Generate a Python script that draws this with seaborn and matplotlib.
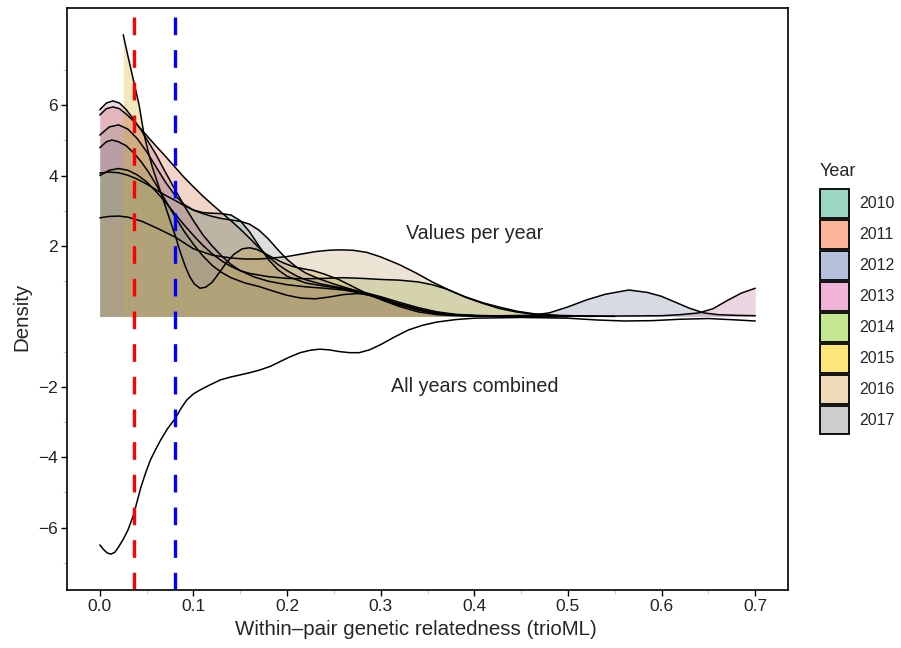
import numpy as np
import pandas as pd
import matplotlib
matplotlib.use("Agg")
import matplotlib.pyplot as plt
import seaborn as sns
from matplotlib.patches import Patch
from matplotlib.ticker import FixedLocator

# Densities, one curve per year (x = relatedness, y = density)
years = ["2010", "2011", "2012", "2013", "2014", "2015", "2016", "2017"]
colors = ["#66c2a5", "#fc8d62", "#8da0cb", "#e78ac3", "#a6d854", "#ffd92f", "#e5c494", "#b3b3b3"]

x_2010 = [0, 0.01, 0.02, 0.03, 0.04, 0.05, 0.06, 0.07, 0.08, 0.09, 0.1, 0.11, 0.12, 0.13, 0.14, 0.15,
          0.16, 0.17, 0.18, 0.19, 0.2, 0.22, 0.24, 0.26, 0.28, 0.3, 0.32, 0.34, 0.36, 0.38, 0.4, 0.43, 0.46, 0.5]
d_2010 = [5.15, 5.38, 5.44, 5.32, 5.05, 4.68, 4.25, 3.82, 3.45, 3.18, 3.02, 2.95, 2.93, 2.92, 2.88, 2.72,
          2.4, 2.0, 1.62, 1.33, 1.14, 0.95, 0.86, 0.78, 0.66, 0.5, 0.33, 0.19, 0.09, 0.04, 0.02, 0.01, 0, 0]

x_2011 = [0, 0.007, 0.014, 0.021, 0.028, 0.036, 0.044, 0.052, 0.06, 0.07, 0.08, 0.09, 0.1, 0.11, 0.12,
          0.13, 0.14, 0.15, 0.16, 0.17, 0.18, 0.19, 0.2, 0.21, 0.22, 0.235, 0.25, 0.265, 0.28, 0.3, 0.32,
          0.34, 0.36, 0.38, 0.4, 0.43, 0.46, 0.5]
d_2011 = [5.72, 5.9, 5.95, 5.9, 5.75, 5.55, 5.32, 5.08, 4.84, 4.55, 4.25, 3.95, 3.68, 3.42, 3.18,
          2.95, 2.72, 2.48, 2.22, 1.95, 1.7, 1.48, 1.3, 1.15, 1.04, 0.93, 0.85, 0.78, 0.7, 0.56, 0.4,
          0.25, 0.13, 0.06, 0.03, 0.01, 0, 0]

x_2012 = [0, 0.007, 0.013, 0.02, 0.028, 0.036, 0.044, 0.052, 0.06, 0.07, 0.08, 0.09, 0.1, 0.11, 0.12,
          0.13, 0.14, 0.155, 0.17, 0.185, 0.2, 0.215, 0.23, 0.245, 0.26, 0.275, 0.29, 0.305, 0.32, 0.34,
          0.36, 0.38, 0.4, 0.43, 0.46, 0.48, 0.5, 0.52, 0.54, 0.565, 0.585, 0.6, 0.615, 0.63, 0.645,
          0.66, 0.68, 0.7]
d_2012 = [4.79, 4.96, 5.01, 4.96, 4.85, 4.65, 4.4, 4.1, 3.75, 3.3, 2.85, 2.42, 2.05, 1.72, 1.45,
          1.25, 1.1, 0.95, 0.85, 0.72, 0.6, 0.52, 0.5, 0.55, 0.62, 0.65, 0.6, 0.48, 0.34, 0.18,
          0.08, 0.04, 0.02, 0.02, 0.03, 0.1, 0.27, 0.47, 0.63, 0.75, 0.68, 0.57, 0.4, 0.23, 0.1,
          0.05, 0.03, 0.02]

x_2013 = [0, 0.007, 0.014, 0.021, 0.028, 0.036, 0.044, 0.052, 0.06, 0.07, 0.08, 0.09, 0.1, 0.11, 0.12,
          0.13, 0.14, 0.15, 0.165, 0.18, 0.2, 0.22, 0.24, 0.26, 0.28, 0.3, 0.32, 0.34, 0.36, 0.38, 0.4,
          0.45, 0.5, 0.55, 0.6, 0.62, 0.64, 0.655, 0.67, 0.685, 0.7]
d_2013 = [5.87, 6.06, 6.12, 6.06, 5.88, 5.6, 5.3, 4.95, 4.6, 4.1, 3.62, 3.15, 2.72, 2.32, 2.0,
          1.72, 1.48, 1.3, 1.12, 1.0, 0.9, 0.84, 0.8, 0.75, 0.66, 0.52, 0.36, 0.21, 0.1, 0.04, 0.02,
          0.01, 0.01, 0.01, 0.02, 0.05, 0.1, 0.22, 0.45, 0.66, 0.8]

x_2014 = [0, 0.01, 0.02, 0.03, 0.04, 0.05, 0.06, 0.07, 0.08, 0.09, 0.1, 0.11, 0.12, 0.13, 0.14, 0.15,
          0.16, 0.18, 0.2, 0.22, 0.24, 0.26, 0.28, 0.3, 0.32, 0.34, 0.355, 0.37, 0.39, 0.41, 0.426,
          0.445, 0.465, 0.49, 0.52, 0.55]
d_2014 = [4.0, 4.15, 4.2, 4.15, 4.02, 3.82, 3.55, 3.25, 2.92, 2.6, 2.3, 2.02, 1.78, 1.58, 1.42, 1.3,
          1.22, 1.13, 1.08, 1.07, 1.08, 1.1, 1.08, 1.05, 1.03, 0.98, 0.9, 0.78, 0.56, 0.38, 0.27,
          0.15, 0.07, 0.03, 0.01, 0]

x_2015 = [0.025, 0.03, 0.036, 0.042, 0.047, 0.052, 0.056, 0.061, 0.066, 0.071, 0.076, 0.081, 0.086,
          0.091, 0.096, 0.101, 0.107, 0.113, 0.12, 0.127, 0.135, 0.143, 0.152, 0.16, 0.168, 0.177,
          0.186, 0.196, 0.206, 0.216, 0.228, 0.24, 0.255, 0.27, 0.285, 0.3, 0.32, 0.34, 0.36, 0.38,
          0.4, 0.43, 0.46]
d_2015 = [8.0, 7.4, 6.7, 6.0, 5.2, 4.65, 4.25, 3.85, 3.45, 3.05, 2.65, 2.26, 1.82,
          1.44, 1.13, 0.92, 0.8, 0.83, 0.97, 1.22, 1.52, 1.76, 1.92, 1.95, 1.9, 1.78,
          1.65, 1.52, 1.42, 1.36, 1.3, 1.2, 1.05, 0.85, 0.65, 0.48, 0.28, 0.13, 0.05, 0.02,
          0.01, 0, 0]

x_2016 = [0, 0.01, 0.02, 0.03, 0.045, 0.06, 0.08, 0.1, 0.12, 0.14, 0.155, 0.17, 0.185, 0.2, 0.215,
          0.23, 0.245, 0.256, 0.27, 0.285, 0.3, 0.32, 0.338, 0.355, 0.373, 0.39, 0.408, 0.426, 0.444,
          0.46, 0.48, 0.5, 0.53]
d_2016 = [2.8, 2.84, 2.85, 2.82, 2.7, 2.52, 2.26, 1.92, 1.74, 1.66, 1.63, 1.63, 1.66, 1.7, 1.77,
          1.84, 1.88, 1.89, 1.88, 1.82, 1.69, 1.47, 1.23, 0.98, 0.75, 0.55, 0.38, 0.23, 0.13,
          0.07, 0.03, 0.01, 0]

x_2017 = [0, 0.01, 0.02, 0.03, 0.04, 0.05, 0.06, 0.07, 0.08, 0.09, 0.1, 0.11, 0.12, 0.13, 0.14, 0.15,
          0.16, 0.17, 0.18, 0.19, 0.2, 0.21, 0.22, 0.235, 0.25, 0.265, 0.28, 0.3, 0.32, 0.34, 0.36,
          0.38, 0.41, 0.45, 0.5]
d_2017 = [4.07, 4.1, 4.08, 4.01, 3.9, 3.76, 3.6, 3.44, 3.3, 3.15, 3.02, 2.92, 2.84, 2.78, 2.74, 2.7,
          2.62, 2.45, 2.2, 1.9, 1.62, 1.4, 1.23, 1.06, 0.92, 0.8, 0.68, 0.5, 0.33, 0.19, 0.09,
          0.04, 0.01, 0, 0]

# All years combined, drawn downwards
x_all = [0, 0.004, 0.008, 0.012, 0.016, 0.02, 0.025, 0.03, 0.036, 0.04, 0.044, 0.049, 0.054, 0.06,
         0.065, 0.072, 0.081, 0.087, 0.093, 0.1, 0.107, 0.118, 0.129, 0.14, 0.15, 0.16, 0.171, 0.182,
         0.192, 0.203, 0.214, 0.225, 0.235, 0.245, 0.256, 0.267, 0.277, 0.288, 0.3, 0.315, 0.33, 0.345,
         0.36, 0.38, 0.4, 0.45, 0.5, 0.53, 0.56, 0.59, 0.62, 0.65, 0.68, 0.7]
d_all = [-6.49, -6.62, -6.72, -6.75, -6.7, -6.55, -6.33, -6.07, -5.64, -5.24, -4.84, -4.44, -4.08, -3.76,
         -3.51, -3.2, -2.88, -2.6, -2.37, -2.2, -2.09, -1.94, -1.8, -1.72, -1.66, -1.6, -1.52, -1.42,
         -1.29, -1.15, -1.03, -0.96, -0.93, -0.95, -1.0, -1.03, -1.03, -0.95, -0.8, -0.58, -0.38, -0.25,
         -0.16, -0.09, -0.05, -0.03, -0.05, -0.1, -0.13, -0.12, -0.08, -0.06, -0.1, -0.13]

# thresholds
red_cut = 0.036
blue_cut = 0.08

xs = [x_2010, x_2011, x_2012, x_2013, x_2014, x_2015, x_2016, x_2017]
ds = [d_2010, d_2011, d_2012, d_2013, d_2014, d_2015, d_2016, d_2017]

rows = []
for yr, xx, dd in zip(years, xs, ds):
    for a, b in zip(xx, dd):
        rows.append({"year": yr, "x": a, "density": b})
df = pd.DataFrame(rows)

sns.set_theme(style="white")
plt.rcParams['font.family'] = ['Liberation Sans', 'DejaVu Sans']

fig = plt.figure(figsize=(9.01, 6.48), dpi=100)
ax = fig.add_axes([0.0744, 0.0895, 0.8002, 0.8982])

# filled densities (a bit darker so the overlaps turn brown like the original)
dark = np.array([0.24, 0.16, 0.05])
for yr, col in zip(years, colors):
    sub = df[df["year"] == yr]
    fc = 0.8 * np.array(matplotlib.colors.to_rgb(col)) + 0.2 * dark
    ax.fill_between(sub["x"], 0, sub["density"], color=fc, alpha=0.31, lw=0)
sns.lineplot(data=df, x="x", y="density", units="year", estimator=None, sort=False,
             color="black", lw=1.1, ax=ax, legend=False)

# combined curve
sns.lineplot(x=x_all, y=d_all, color="black", lw=1.1, ax=ax, sort=False, estimator=None)

ax.axvline(red_cut, color="red", lw=2.4, ls=(0, (5.3, 4.5)))
ax.axvline(blue_cut, color="blue", lw=2.4, ls=(0, (5.3, 4.5)))

ax.text(0.4, 2.35, "Values per year", ha="center", va="center", fontsize=14.2)
ax.text(0.4, -2.0, "All years combined", ha="center", va="center", fontsize=14.2)

ax.set_xlim(-0.035, 0.735)
ax.set_ylim(-7.77, 8.76)
ax.set_xticks([0, 0.1, 0.2, 0.3, 0.4, 0.5, 0.6, 0.7])
ax.set_xticklabels(["0.0", "0.1", "0.2", "0.3", "0.4", "0.5", "0.6", "0.7"])
ax.set_yticks([-6, -4, -2, 2, 4, 6])
ax.set_yticklabels(["\u22126", "\u22124", "\u22122", "2", "4", "6"])
ax.xaxis.set_minor_locator(FixedLocator([0.05, 0.15, 0.25, 0.35, 0.45, 0.55, 0.65]))
ax.yaxis.set_minor_locator(FixedLocator([-7, -5, -3, -1, 1, 3, 5, 7]))
ax.tick_params(which="major", direction="out", length=4, width=1, color="black",
               labelsize=12.5, labelcolor="#222222", bottom=True, left=True, pad=2.5)
ax.tick_params(which="minor", direction="out", length=3, width=0.8, color="#d0d0d0",
               bottom=True, left=True)
for s in ax.spines.values():
    s.set_color("black")
    s.set_linewidth(1.2)

ax.set_xlabel("Within\u2013pair genetic relatedness (trioML)", fontsize=14.8)
ax.set_ylabel("Density", fontsize=14.8)
ax.xaxis.set_label_coords(0.484, -0.052)
ax.yaxis.set_label_coords(-0.05, 0.47)

# legend: lighter keys with black border
handles = []
for c in colors:
    r, g, b = matplotlib.colors.to_rgb(c)
    handles.append(Patch(facecolor=(1 - 0.65 * (1 - r), 1 - 0.65 * (1 - g), 1 - 0.65 * (1 - b)),
                         edgecolor="black", lw=1.3))
fig.text(0.910, 0.736, "Year", ha="left", va="center", fontsize=13)
fig.legend(handles, years, loc="upper left", bbox_to_anchor=(0.910, 0.7083),
           frameon=False, fontsize=11.5, borderpad=0, borderaxespad=0, handlelength=1.81,
           handleheight=2.41, labelspacing=0.125, handletextpad=0.63)

fig.savefig("out.png", dpi=100)
